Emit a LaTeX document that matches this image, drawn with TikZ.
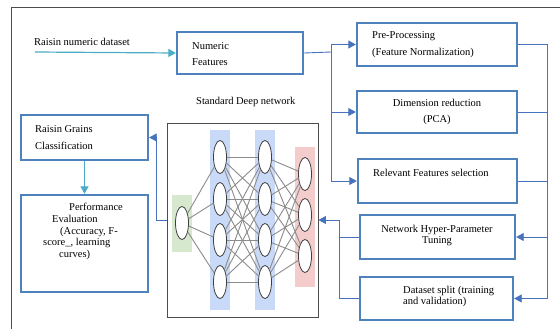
\documentclass[tikz,border=0pt]{standalone}
\usepackage{fontspec}
\setmainfont{Liberation Serif}
\usetikzlibrary{arrows.meta,calc,shapes.geometric}

\definecolor{boxblue}{RGB}{79,129,189}
\definecolor{linkblue}{RGB}{70,114,190}
\definecolor{feedteal}{RGB}{75,172,198}
\definecolor{inlayer}{RGB}{214,232,206}
\definecolor{hidlayer}{RGB}{201,218,248}
\definecolor{outlayer}{RGB}{244,204,204}

\tikzset{
  stage/.style={draw=boxblue, line width=2.4pt, inner sep=0pt},
  link/.style={draw=linkblue, line width=0.9pt},
  feed/.style={draw=feedteal, line width=1.2pt},
  txt/.style={font=\fontsize{10.5}{#1}\selectfont, anchor=west, align=left, inner sep=0pt},
  txt/.default=16,
  neuron/.style={ellipse, draw=black!75, fill=white, line width=0.8pt,
    minimum width=13pt, minimum height=33pt, inner sep=0pt},
  wire/.style={draw=black!45, line width=0.9pt}
}

\begin{document}
\begin{tikzpicture}[>={Triangle[length=7.5pt,width=8pt]}, x=1pt, y=-1pt]
  \useasboundingbox (0,0) rectangle (560,329);
  \fill[white] (0,0) rectangle (560,329);
  \draw[black!70, line width=1pt] (560,8) -- (11,8) -- (11,329);

  % pipeline stages
  \node[stage, minimum width=126pt, minimum height=42pt] (num) at (240,53) {};
  \node[stage, minimum width=160pt, minimum height=43pt] (pre) at (437,44.5) {};
  \node[stage, minimum width=160pt, minimum height=42pt] (dim) at (437,112) {};
  \node[stage, minimum width=159pt, minimum height=44pt] (rel) at (437.5,181) {};
  \node[stage, minimum width=155pt, minimum height=44pt] (hyp) at (437.5,237) {};
  \node[stage, minimum width=153pt, minimum height=43pt] (split) at (436.5,298.5) {};
  \node[stage, minimum width=127pt, minimum height=45pt] (cls) at (84.5,137.5) {};
  \node[stage, minimum width=127pt, minimum height=97pt] (perf) at (84.5,243.5) {};
  \node[draw=black!70, line width=0.9pt, minimum width=151pt, minimum height=194pt,
    inner sep=0pt] (nn) at (242.5,220) {};

  \node[txt] (numtxt) at (192,54) {Numeric\\Features};
  \node[txt=17] (pretxt) at (372,44.5) {Pre-Processing\\(Feature Normalization)};
  \node[txt, anchor=center, align=center] (dimtxt) at (437,112) {Dimension reduction\\(PCA)};
  \node[txt] (reltxt) at (373,173) {Relevant Features selection};
  \node[txt=11, anchor=center, align=center] (hyptxt) at (437,235.5) {Network Hyper-Parameter\\Tuning};
  \node[txt=11] (splittxt) at (403,296.5) {Dataset split (training\\and validation)};
  \node[txt=17] (clstxt) at (35,137.5) {Raisin Grains\\Classification};
  \node[txt=11.7] (perftxt) at (43,231.5) {\hspace*{26pt}Performance\\\hspace*{9pt}Evaluation\\
    \hspace*{17pt}(Accuracy, F-\\score\_, learning\\\hspace*{16pt}curves)};
  \node[txt] (nettitle) at (196,102) {Standard Deep network};
  \node[txt] (datatxt) at (34,42) {Raisin numeric dataset};

  % network layers
  \fill[inlayer] (172,195) rectangle (192,252);
  \fill[hidlayer] (210,130) rectangle (230,310);
  \fill[hidlayer] (255,130) rectangle (275,310);
  \fill[outlayer] (295,147) rectangle (315,287);
  \foreach \k/\y in {1/157,2/199,3/240,4/282} {
    \node[neuron] (a\k) at (220,\y) {};
    \node[neuron] (b\k) at (265,\y) {};
  }
  \foreach \k/\y in {1/174,2/215,3/256}
    \node[neuron] (o\k) at (305,\y) {};
  \node[neuron] (i1) at (182,223) {};
  \foreach \j in {1,...,4} {
    \draw[wire] (i1) -- (a\j);
    \foreach \k in {1,...,4} \draw[wire] (a\j) -- (b\k);
    \foreach \k in {1,2,3} \draw[wire] (b\j) -- (o\k);
  }

  % connectors
  \coordinate (src) at (35,52);
  \coordinate (busL) at (331,52);
  \coordinate (busR) at (547,44.5);
  \coordinate (tune) at (339,220);
  \draw[feed, ->] (src) -- (num.west);
  \draw[link] (num.east) -- (busL);
  \foreach \b in {pre,dim,rel}
    \draw[link, ->] (busL) |- (\b.west);
  \foreach \b in {pre,dim,rel}
    \draw[link] (\b.east) -- (\b.east -| busR);
  \foreach \b in {hyp,split}
    \draw[link, ->] (busR) |- (\b.east);
  \draw[link] (hyp.west) -- (hyp.west -| tune);
  \draw[link, ->] (split.west) -| (tune) -- (nn.east);
  \draw[link, ->] (nn.west) -- ++(-10,0) |- (cls.east);
  \draw[feed, ->] (cls.south) -- (perf.north);
\end{tikzpicture}
\end{document}
